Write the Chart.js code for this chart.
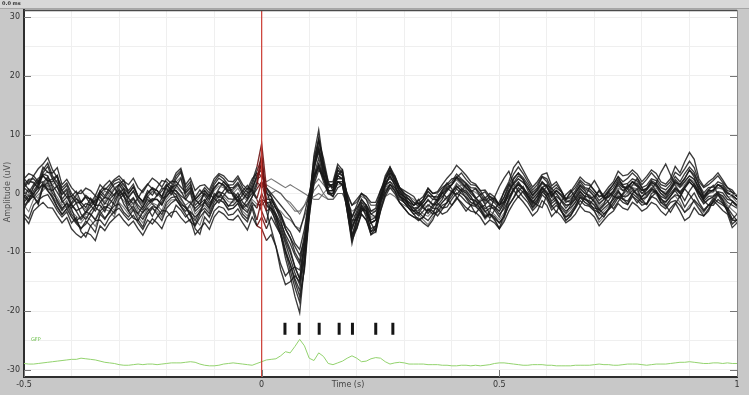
<!DOCTYPE html>
<html><head><meta charset="utf-8">
<script src="https://cdn.jsdelivr.net/npm/chart.js@4.4.1/dist/chart.umd.min.js"></script>
<style>html,body{margin:0;padding:0;background:#c8c8c8;overflow:hidden}canvas{display:block}</style>
</head><body>
<canvas id="c" width="749" height="395" style="width:749px;height:395px"></canvas>
<script>
// time axis (s)
const times = [-0.5,-0.49,-0.48,-0.47,-0.46,-0.45,-0.44,-0.43,-0.42,-0.41,-0.4,-0.39,-0.38,-0.37,-0.36,-0.35,-0.34,-0.33,-0.32,-0.31,
  -0.3,-0.29,-0.28,-0.27,-0.26,-0.25,-0.24,-0.23,-0.22,-0.21,-0.2,-0.19,-0.18,-0.17,-0.16,-0.15,-0.14,-0.13,-0.12,-0.11,
  -0.1,-0.09,-0.08,-0.07,-0.06,-0.05,-0.04,-0.03,-0.02,-0.01,
  0,0.01,0.02,0.03,0.04,0.05,0.06,0.07,0.08,0.09,0.1,0.11,0.12,0.13,0.14,0.15,0.16,0.17,0.18,0.19,0.2,0.21,0.22,0.23,0.24,0.25,0.26,0.27,0.28,0.29,0.3,0.31,0.32,
  0.33,0.34,0.35,0.36,0.37,0.38,0.39,0.4,0.41,0.42,0.43,0.44,0.45,0.46,0.47,0.48,0.49,0.5,0.51,0.52,0.53,0.54,0.55,0.56,0.57,0.58,0.59,
  0.6,0.61,0.62,0.63,0.64,0.65,0.66,0.67,0.68,0.69,0.7,0.71,0.72,0.73,0.74,0.75,0.76,0.77,0.78,0.79,0.8,0.81,0.82,0.83,0.84,0.85,0.86,0.87,0.88,0.89,
  0.9,0.91,0.92,0.93,0.94,0.95,0.96,0.97,0.98,0.99,1];

// channel amplitudes (uV), one value per time point
const ch01 = [-0.5,0.8,-0.2,1.5,3.3,3.0,1,-1.5,-2.8,-1.6,-2.6,-4.8,-5.9,-5.2,-3.8,-2.4,-3,-4.2,-3.3,-1.2,0.2,-1.8,-3,-4.2,-4.6,-3.1,-2.5,-3.9,-2.3,-0.8,-0.5,0.6,-0.2,-1.9,-2.3,-3.8,-5.3,-3.5,-1.3,-2.4,-1,0.3,-0.9,-2.2,-1.2,-0.5,-2.3,-1,0,1.8,
  7,-3,-2.5,-5,-7,-11,-14,-17.5,-20.3,-12,-2,6.5,10.8,5,1,1.5,4.5,3.5,-3,-8.5,-5,-2,-4,-7,-6,-1,2.5,4.5,2.5,0,-1.5,-2.5,-3.5,
  -4.5,-4.1,-2.6,-3,-3.8,-2.7,-1.5,0.3,1.2,0.5,-0.8,-2,-3.4,-2.3,-2.0,-3.5,-4.4,-5.9,-3.6,-1,0.5,1.8,0.9,-0.4,-1.3,-2,-2.4,-0.2,0.4,-1,-2.9,-4.6,-3.8,-2.2,-0.6,-1,-1.6,-2.8,-3.3,-4,-2.5,-0.5,0.6,-0.9,-1.8,0,0.8,-1,-1.9,-0.6,0.2,-1.5,-1.4,-0.4,0.5,-0.7,1.0,2.4,1.6,0.2,-1.2,-2,-1.6,-0.2,-1.1,-3.2,-4.6,-4.5];
const ch02 = [1,2.2,1.8,0.9,3.5,4.6,2.5,1.0,-0.2,0.6,-1.8,-0.9,-2,-3.3,-2.3,-1.2,-0.6,-1.8,-0.5,0.7,1.5,0.2,-0.7,0.4,-1.2,-2.4,-0.5,-1.4,-0.3,0.9,0.8,-0.2,1.2,2.6,-0.5,0.5,-2,-1.2,0,-1.1,0.8,1.9,1.3,0.1,0,-1.2,-0.2,0.9,0.6,-0.8,
  2,0.5,-2,-4,-7,-10,-13,-16,-18.5,-12.5,-3,5,9.5,5,1.5,1,4,3,-2,-7.5,-4.5,-2.5,-3,-6.5,-5.5,-1.5,2,4,2,0.5,-1,-2,-3,
  -2.4,-1.5,-0.4,-0.5,-1.3,0.2,1.1,1.5,2.8,2.3,1.6,0.5,-0.9,-0.2,0.3,-1,-1.6,-2.5,-1.4,0.3,1.8,3,2.4,1,-0.3,0.8,1.9,1.2,-0.3,0.5,-0.4,-1.5,-1.1,0,1.5,0.8,0.4,-0.5,-1.8,-1,-0.4,0.3,2.1,1.3,0.8,2,1.4,0.5,0.9,2.2,1.7,0.5,-0.1,1,2.4,1.5,2.6,4,3.2,1.5,-0.6,0.3,0.6,1.5,1.3,0.2,-0.4,-1];
const ch03 = [-2.5,-1.2,-0.5,-1.9,1.5,0.4,-0.5,-2.2,-3.5,-2.6,-4,-5.1,-6,-4.7,-5.5,-6.6,-3.5,-4.4,-3,-2.1,-1.8,-3.2,-4,-2.8,-4.5,-5.7,-3.5,-2.4,-3.5,-4.6,-2.5,-1.6,-1,-2.2,-3.5,-4.8,-5.5,-4.1,-3,-3.9,-2,-1.0,-1.5,-2.8,-2.5,-1.7,-3.5,-4.3,-2,-4.5,
  -1,-3,-6,-9,-13,-15.5,-15,-14,-15,-11,-4,2,5,3,0,-0.5,2,1.5,-3,-8,-6,-3.5,-4.5,-7,-6.5,-3,0,1.5,0.5,-1.5,-2.5,-3.5,-4,
  -4.6,-4,-2.7,-3.5,-3.1,-2,-1.6,-0.5,0.8,0,-0.6,-1.5,-1.9,-2.5,-3.9,-3.5,-4.2,-5,-4.0,-2,-0.7,1,0.2,-1,-2.4,-1.5,0.3,-0.5,-2.3,-1.5,-3.0,-4,-3.2,-2,-0.7,-1.5,-2.0,-2.5,-2.7,-3.5,-2.6,-1.5,-0.4,-1,-1.3,0,-0.7,-1.5,-1.8,0,0.4,-1.5,-2.1,-1,-0.2,-0.5,-2.3,-1,0.1,-1.5,-2.8,-2,-2.0,-1,-1.7,-3,-5.2,-4.5];
const ch04 = [1,0.2,1.5,2.6,3,2.1,2.5,3.1,0.5,-0.6,-0.5,0.4,-1.5,-2.4,-0.8,-1.6,0,0.9,0.5,-0.4,1.5,2.3,0,1.1,-0.5,-1.4,0,0.8,0.5,-0.5,1.2,2.1,2,1.1,0.2,1.0,-1,-1.9,0.5,-0.3,1,1.8,1.5,0.4,0.8,1.6,0,-0.9,1,2.8,
  5,-1.5,-1.5,-3.5,-6,-8.5,-11,-13.5,-15.5,-9.5,-1.5,5,8,4.5,1.5,1,3.5,3,-1.5,-6,-3.5,-1.5,-2.5,-5,-4.5,-0.5,2.5,3.5,2,0.5,-0.5,-1.5,-2.5,
  -2.3,-1.5,-0.2,-1,-1.1,0,0.6,1.5,2.6,1.8,0.9,0.3,0.8,-0.5,-1.9,-1,-0.8,-2,-1.4,0.5,1.6,2.5,1.9,1,-0.4,0.5,2.0,1.2,-0.6,0.5,-0.2,-1.2,-1.5,0.2,1.3,0.5,-0.9,-0.5,0.4,-0.8,-0.6,0.5,1.8,1,1.1,2,1.7,0.6,0.7,1.8,1.5,0.5,-0.2,0.8,2.1,1.2,2.0,3,2.4,1,-0.5,0.6,0.4,1.5,1.0,0,-0.3,-1];
const ch05 = [-3.5,-4.3,-2,-1.1,-0.5,-0.2,-1.5,-2.9,-4,-3.1,-5,-4.1,-6.5,-7.4,-5.5,-4.6,-4.5,-5.5,-4,-3.0,-2.5,-3.6,-4.5,-3.7,-5,-6.1,-4.5,-5.2,-4,-2.9,-3,-4.0,-2,-2.8,-4,-3.2,-6,-6.9,-4,-5.0,-3,-2.2,-2.5,-3.7,-3.5,-2.6,-4,-4.8,-2.5,-5.5,
  -4,-6,-4,-5.5,-7,-10,-12,-14.5,-16.5,-11,-3,4,7.5,3.5,0.5,0.5,3,2.5,-2.5,-7,-4.5,-2.5,-3.5,-6,-5.5,-1.5,1.5,3,1.5,-0.5,-1.5,-2.5,-3.5,
  -3.2,-4,-4.6,-3.5,-1.6,-2.5,-2.3,-1,0.1,-0.5,-1.4,-2,-2.2,-3,-4.1,-3.5,-3.9,-5,-3.8,-2,-0.8,0.5,-0.6,-1.5,-2.9,-2,-0.2,-1,-2.8,-2,-2.9,-4,-3.6,-2.5,-1.2,-2,-2.2,-3,-4.4,-3.5,-2.7,-2,-0.7,-1.5,-1.9,-0.5,-1.1,-2,-1.7,-0.5,-0.9,-2,-2.6,-1.5,-1.2,-2,-3.2,-2.5,-1.1,-2,-3.0,-2,-0.8,-1.5,-2.0,-2.5,-4.4,-3.5];
const ch06 = [2.5,1.6,3,4.2,5,6.1,4,2.7,1,1.8,0,-0.9,-1.5,-0.3,-1,-2.1,0.5,-0.4,1,2.1,2.5,1.4,0.5,1.6,-0.5,-1.3,0.5,-0.3,1,2.2,2,1.1,3,3.9,1,2.0,-1,-0.2,1,0.1,2,3.1,2.5,1.4,1.5,2.6,1,0.2,2,4.5,
  8.5,1,-0.5,-2.5,-4.5,-7.5,-9.5,-12.5,-14.5,-8.5,-1,6,9,5,2,2,5,4,-0.5,-5,-3,-1,-2,-4.5,-4,0,3,4.5,3,1,0,-1,-2,
  -1.2,-0.5,0.9,0,0.1,1,1.6,2.5,2.7,3.5,2.4,1.5,1.4,0.5,0.6,-0.5,-1.3,-2,-0.6,1.5,3.3,4.5,3.4,2,0.6,1.5,2.9,2.5,0.8,1.5,0.4,-1,0.1,1,2.3,1.5,1.4,0.5,-0.4,-0.5,0.6,1.5,2.9,2,2.6,3.5,2.7,1.5,2.4,3.5,2.6,1.5,1.2,2,3.6,3,4.2,5.5,4.4,2,1.0,1.5,2.2,3,1.9,1,0.2,-0.5];
const ch07 = [-0.5,-1.4,0,0.9,1.5,0.8,0.5,1.3,-1.5,-0.6,-2,-2.9,-2.5,-1.7,-2,-3.0,-1.5,-0.6,-1,-1.9,0,0.8,-1.5,-0.7,-2,-2.8,-1.5,-0.9,-1,-1.9,-0.5,0.4,0.5,-0.4,-1,-1.6,-2.5,-1.8,-1,-2.0,-0.5,0.3,0,-0.9,-1,0.1,-1.5,-2.3,-0.5,0.8,
  2,-1.5,-2.5,-4,-5.5,-8,-10,-12.5,-14.5,-9,-2,4.5,7,3.5,0.5,0.5,3,2.5,-2,-6,-4,-2,-3,-5,-4.5,-1,1.5,3,1.5,-0.5,-1,-2,-3,
  -2.9,-2,-1.2,-1.8,-2.0,-1,0.9,0.3,-0.2,0.8,0.4,-0.5,-2.1,-1.3,-0.9,-1.8,-2.2,-3,-1.6,-0.5,0.7,1.5,0.9,0,-1.4,-0.5,1.1,0.3,-1.3,-0.5,-1.2,-2,-1.8,-1,0.3,-0.5,-0.6,-1.3,-2.6,-1.8,0.2,-0.5,-0.8,0,1.5,0.8,-0.1,-0.5,0.1,0.8,0.4,-0.5,-0.9,0,1.0,0.3,1.2,2,1.1,0,-1.3,-0.5,-0.4,0.3,0.1,-1,-1.2,-2];
const ch08 = [-4,-5.1,-3,-2.2,-1.5,-2.4,-2.5,-3.8,-5,-4.1,-6,-6.9,-7.5,-6.6,-7,-8.0,-5.5,-6.3,-5,-4.2,-3.5,-4.6,-5.5,-4.7,-6,-7.1,-5.5,-4.3,-5,-6.0,-4,-3.2,-3,-4.1,-5,-4.4,-7,-6.0,-5,-6.1,-4,-3.0,-3.5,-4.4,-4.5,-3.7,-5,-6.2,-4,-5.5,
  -6,-8,-7,-9,-12,-14,-13,-12.5,-13,-9,-3,3,6,3,0,0,2,1.5,-3,-7.5,-5.5,-3.5,-4.5,-6.5,-6,-3,-0.5,1,0,-1.5,-2.5,-3.5,-4,
  -4.2,-5,-5.6,-4.5,-2.6,-3.5,-3.1,-2,-0.7,-1.5,-2.4,-3,-3.2,-4,-5.3,-4.5,-5.0,-6,-4.8,-3,-1.6,-0.5,-1.4,-2.5,-3.8,-3,-1.2,-2,-3.9,-3,-3.8,-5,-4.4,-3.5,-2.1,-3,-3.2,-4,-5.5,-4.5,-3.6,-3,-1.7,-2.5,-2.8,-1.5,-2.1,-3,-2.5,-1.5,-1.9,-3,-3.7,-2.5,-1.6,-3,-4.6,-4,-2.4,-3.5,-3.8,-3,-1.2,-2,-2.9,-3.5,-5.8,-5];
const ch09 = [1.5,2.4,2.5,1.6,4,5.2,3,1.8,0.5,1.4,-0.5,-1.6,-1.5,-0.6,-1,-2.2,0,-0.8,0.5,1.6,2,0.9,0,1.1,-0.5,-1.5,0,1.0,0.5,-0.6,1.5,0.6,2.5,3.6,0.5,1.5,-1,-0.1,0.5,-0.6,1.5,2.6,2,1.0,1,1.9,0.5,-0.4,1.5,3.8,
  6,0,-0.5,-2,-3.5,-6,-7.5,-10,-11.5,-7,-0.5,5,7.5,4,1.5,1.5,4,3.5,-0.5,-4,-2,0,-1,-3,-2.5,0.5,2.5,4,2.5,1,0,-0.5,-1.5,
  -2.2,-1,0.4,-0.5,-0.6,0.5,1.4,2,3.3,2.5,1.8,1,0.9,0,-1.3,-0.5,-0.9,-2,-0.7,1,2.6,3.5,2.7,1.5,0.2,1,2.8,2,0.2,1,0.3,-1,-0.5,0.5,2.0,1,0.8,0,-1.2,-0.5,0.2,1,2.4,1.5,1.7,2.5,2.1,1,1.4,2.5,2.2,1,0.6,1.5,2.9,2,3.4,4.5,3.6,1.5,0.1,1,1.1,2,1.6,0.5,0.2,-0.5];
const ch10 = [-1.5,-0.4,-0.5,-1.6,1,2.0,0,-1.1,-2.5,-1.7,-3.5,-4.6,-4,-3.1,-3.5,-4.5,-3,-2.2,-2.5,-3.4,-1,-0.1,-3,-2.1,-3.5,-4.4,-3,-2.2,-2.5,-3.6,-1.5,-0.7,-0.5,-1.5,-2.5,-3.1,-4,-3.2,-2.5,-3.4,-1.5,-0.4,-1,-2.1,-2,-1.1,-2.5,-3.2,-1.5,-2.5,
  0,-2,-2.5,-3.5,-5,-7,-8.5,-10.5,-12,-8,-2.5,2.5,4.5,2,0,0,2,1.5,-2.5,-5.5,-4,-2.5,-3,-5,-4.5,-1.5,0.5,1.5,0.5,-1,-1.5,-2.5,-3,
  -3.8,-3,-1.9,-2.5,-2.6,-1.5,-0.6,0,1.3,0.5,0.1,-1,-1.2,-2,-3.1,-2.5,-2.4,-3.5,-2.6,-1,0.8,1.5,0.7,-0.5,-1.8,-1,0.9,0,-1.7,-1,-2.1,-3,-2.4,-1.5,-0.2,-1,-1.3,-2,-3.3,-2.5,-1.8,-1,0.3,-0.5,-0.4,0.5,-0.2,-1,-0.6,0.5,0.2,-1,-1.4,-0.5,0.8,0,0.9,2,1.2,-0.5,-1.7,-1,-0.6,0,-0.4,-1.5,-2.0,-2.5];
const ch11 = [0,-1.1,1.2,2.1,3,2.2,2,3.0,-1,0.1,-2.5,-1.6,-3.5,-4.4,-3,-2.0,-2,-3.1,-1,-0.1,0.5,-0.6,-2,-0.9,-2.5,-3.3,-2,-1.1,-1,-2.0,0,0.9,1.5,0.4,-1,0.2,-3,-2.2,-1.5,-2.6,0,-0.7,0.5,1.4,-0.5,-1.4,-1,0.1,0.5,3.2,
  4,-1,-1,-2.5,-3.5,-5.5,-6.5,-8.5,-9.5,-6,-1,3,5,2.5,0.5,0.5,2,2,-1,-4,-2.5,-1,-2,-3.5,-3,-0.5,1.5,2,1,0,-0.5,-1,-2,
  -1.6,-2.5,-3.0,-2,-1.4,-0.5,0.4,1.5,2.8,2,1.1,0,-0.8,-1.5,-2.6,-2,-2.8,-4,-2.1,0,2.4,3.5,2.3,0.5,-0.9,0,1.0,1.5,0.8,0,-1.3,-2.5,-1.6,-0.5,0.9,0,-0.4,-1.5,-2.9,-2,-1.2,0,1.4,0.5,1.1,2,1.2,0,0.8,2,1.3,0,-0.7,0.5,1.9,1.5,2.5,4,2.8,0.5,-0.9,0,0.6,1.5,0.9,-0.5,-1.3,-2];
const ch12 = [2.5,3.4,3,2.0,4.5,3.6,3.5,4.4,1.5,2.4,1,0.1,0,0.9,0.5,-0.4,1.5,0.6,1.5,2.4,3,2.1,1.5,2.6,1,0.2,1.5,2.6,2,1.1,2.5,1.7,3.5,4.3,1.5,2.6,0.5,1.3,1.5,0.6,2.5,3.4,3,2.1,2,3.0,1.5,0.7,2.5,3.5,
  3,1,0,-1,-2,-3,-4,-5.5,-6.5,-3.5,0,3,4.5,2.5,1.5,1.5,2.5,2.5,0,-2,-1,0,-0.5,-1.5,-1.5,0.5,2,2.5,2,1,0.5,0,-0.5,
  -1.8,-1,0.9,0,0.3,1.5,2.6,3.5,4.8,4,3.1,2,1.6,0.5,-0.8,0,-0.6,-2,0.4,2,4.4,5.5,4.0,2.5,1.1,2,3.2,3.5,1.3,2,0.6,-1,0.3,1.5,2.8,2,1.6,0.5,-0.6,0,1.1,2,3.8,3,3.2,4,3.3,2,2.9,4,3.4,2,1.6,2.5,4.6,3.5,5.4,7,5.8,2.5,1.2,2,2.6,3.5,2.3,1,0.6,-0.5];
const ch13 = [-2,-3.1,-1,-0.2,0.5,1.5,-0.5,-1.6,-3,-2.1,-4,-4.9,-5,-3.9,-4.5,-5.6,-3.5,-2.7,-3,-4.0,-1.5,-2.4,-3.5,-2.4,-4,-5.0,-3.5,-2.6,-3,-4.1,-2,-1.1,-1,-2.1,-3,-2.2,-4.5,-5.4,-3,-4.1,-2,-1.2,-1.5,-2.6,-2.5,-1.6,-3,-3.8,-2,-2.0,
  -1,-1.5,-2,-2.5,-3,-4,-4.5,-5.5,-6,-4,-1.5,0.5,1.5,0,-1,-1,0,0,-1.5,-3,-2.5,-1.5,-2,-3,-3,-1.5,-0.5,0,-0.5,-1.5,-2,-2.5,-3,
  -3.6,-4.5,-5.3,-4,-3.2,-2.5,-1.4,0,1.8,1,-0.3,-1.5,-2.1,-3,-4.4,-3.5,-4.6,-6,-4.3,-1.5,0.6,2,0.8,-1,-2.6,-1.5,1.0,0,-0.6,-1.5,-2.8,-4.5,-3.9,-2.5,-0.4,-1.5,-2.2,-3,-4.9,-4,-2.8,-1.5,0.1,-1,-0.3,1,-0.4,-1.5,-0.6,1,-0.2,-1.5,-2.3,-1,-0.4,-1.5,-3.2,-2,-1.3,-2.5,-3.3,-2,-1.1,0,-1.3,-3,-4.3,-5];
const ch14 = [1,1.9,2,1.1,3,3.8,2.5,1.3,0,0.9,-1,-0.3,-2,-2.8,-1.5,-0.7,-0.5,-1.4,0,1.0,1.5,0.6,-0.5,0.4,-1,-1.9,-0.5,0.3,0,-0.9,1,0.1,2,2.8,0,1.1,-1.5,-0.6,0,-1.0,1,1.9,1.5,0.6,0.5,1.4,0,-0.8,1,2.4,
  3,2,2.5,2,1.5,1,1.5,1,0.5,0,-0.5,-1,-1,0,1,1.5,2,1.5,0,-2,-1.5,0,-0.5,-2,-2,-0.5,1,2,1.5,0.5,0,-0.5,-1,
  -1.9,-2,-2.3,-1,-0.1,-0.5,-1.2,0.5,0.9,1.5,0.6,-0.5,-1.7,-1,-0.6,-1.5,-2.4,-3,-1.8,0,1.2,2,0.9,0,-0.8,0,1.7,1,-0.6,0,-0.9,-2,-1.9,-1,0.7,0,-0.2,-1,-2.2,-1.5,-0.6,0,0.9,0.5,0.2,1,0.8,0,0.2,1,0.9,0,-0.4,0.5,1.6,1,1.6,2.5,2.0,0.5,-0.7,0,0.2,1,0.7,-0.5,-0.6,-1.5];
const ch15 = [-1,-0.1,0,-0.9,1.5,2.4,0.5,-0.6,-2,-1.2,-3,-3.9,-4.5,-3.5,-3.5,-4.4,-2.5,-1.6,-2,-2.9,-0.5,-1.2,-2.5,-1.5,-3,-4.0,-2.5,-1.6,-2,-2.9,-1,-0.1,0,-1.1,-2,-1.3,-3.5,-2.7,-2,-3.0,-1,-0.2,-0.5,-1.4,-1.5,-0.6,-2,-2.9,-1,-1.8,
  -2,-1,0,0.5,0,-1,-2,-3,-3,-2,-1,-0.5,0,-0.5,-1,-1,0,0,-2,-4,-3.5,-2,-2.5,-4,-4,-2,0,1,0.5,-0.5,-1.5,-2,-2.5,
  -2.6,-3.5,-3.9,-3,-2.3,-1.5,-0.7,0.5,1.6,1,0.1,-1,-1.1,-2,-3.7,-3,-3.6,-4.5,-3.3,-1,0.9,2,0.9,-0.5,-2.1,-1,0.8,0,-0.3,-1,-2.4,-3.5,-2.7,-1.5,0.2,-1,-1.2,-2,-3.8,-3,-2.1,-1,0.4,-0.5,0.1,1,0.4,-1,-0.3,1,0.3,-1,-1.6,-0.5,0.9,0,1.4,2.5,1.6,-0.5,-1.8,-1,-0.5,0,-0.6,-2,-2.8,-3.5];
const ch16 = [0.5,-0.4,1,1.9,2,1.2,1.5,2.3,0,0.8,-0.5,-1.4,-1.5,-0.6,-1,-1.9,-0.5,0.4,0,-0.8,1,1.8,-0.5,0.5,-1,-1.8,-0.5,0.4,0,-0.9,0.5,1.3,1,0.2,0,0.8,-1,-1.8,0,-0.6,0.5,1.3,1,0.2,0,0.9,-0.5,-1.3,0.5,2.0,
  1,1.5,1,0.5,0,-1,-1.5,-2.5,-3.5,-2,0,1.5,2.5,1.5,0.5,0.5,1.5,1.5,-0.5,-2,-1.5,-0.5,-1,-2,-2,-0.5,1,1.5,1,0,-0.5,-1,-1.5,
  -1.8,-1,0.3,-0.5,-0.8,0,0.9,1.5,2.3,1.5,1.2,0.5,0.2,-0.5,-1.6,-1,-1.1,-2,-1.2,0.5,1.7,2.5,1.8,1,-0.2,0.5,1.7,1,-0.3,0.5,-0.2,-1,-0.8,0,1.2,0.5,0.3,-0.5,-1.6,-1,-0.2,0.5,1.6,1,0.7,1.5,1.3,0.5,0.8,1.5,1.2,0.5,0.2,1,1.8,1,2.1,3,2.4,1,-0.2,0.5,0.5,1,0.8,0,-0.3,-1];
const ch17 = [-2.2,-1.0,0.4,1.6,2.0,0.6,-0.8,-2.4,-3.6,-2.6,-1.8,-3.0,-4.4,-3.2,-1.6,-0.4,-1.2,-2.6,-1.8,-0.6,0.8,-0.4,-1.6,-2.8,-3.4,-2.2,-1.0,-1.8,-2.6,-1.4,0.2,1.2,0.4,-0.8,-2.2,-3.6,-4.6,-3.0,-1.4,-0.2,-0.8,-1.6,-0.4,0.8,-0.2,-1.4,-2.6,-1.8,-0.6,1.4,
  5.5,-2,-3,-4.5,-6.5,-9.5,-12,-15,-17.5,-13,-4,4,9,6,2,0.5,3,4,-1,-7,-6,-3,-2.5,-5,-6.5,-2.5,1,3.5,3,1,-0.5,-2,-2.5,
  -3.4,-2.2,-1.0,-2.0,-0.8,0.6,1.8,0.8,-0.6,-1.8,-3.0,-2.0,-1.2,-2.6,-4.2,-3.0,-0.6,1.2,2.6,3.8,1.6,0.4,1.2,-0.4,-1.6,-0.4,0.8,-0.6,-2.0,-3.2,-1.4,-0.2,0.6,-0.8,-2.0,-0.6,1.0,2.2,0.8,-0.8,0.4,1.6,2.8,1.2,0.2,1.4,2.6,1.0,-0.4,0.6,1.8,3.6,5.0,3.2,1.4,0.2,-1.2,0.4,1.6,0.2,-1.0,0.6,1.4,-0.2,-1.6,-2.8,-1.4,-2.2];
const ch18 = [1.8,0.6,-0.6,0.4,1.8,2.8,1.4,0.2,-1.2,-2.4,-1.6,-0.2,0.6,-0.6,-1.8,-1.0,0.4,1.4,2.2,1.0,-0.4,0.2,-0.8,-1.8,-0.8,0.6,1.6,0.8,-0.4,0.4,1.6,0.4,-1.0,-2.2,-3.0,-1.8,-0.6,0.6,-0.4,-1.6,-0.6,0.8,2.0,1.2,0.2,-0.6,0.4,1.4,0.2,-1.0,
  -3,-5,-1,-2.5,-4,-6,-7.5,-9,-10.5,-8,-3,1.5,4,3,0.5,-0.5,1,1.5,-1.5,-4.5,-4.5,-3,-2,-3.5,-4,-2,0,1.5,1,-0.5,-1,-1.5,-2,
  -1.0,-2.2,-3.4,-2.4,-1.2,0.2,-0.8,-2.0,-1.0,0.4,1.6,0.6,-0.6,-1.8,-3.0,-4.2,-2.8,-1.4,0.2,1.6,0.6,-0.6,0.4,-0.8,-2.2,-1.2,0.2,1.2,0.0,-1.2,-2.4,-3.4,-2.0,-0.8,0.4,-0.6,-1.8,-0.8,0.6,-0.4,-1.6,-2.6,-1.4,-0.2,0.8,-0.4,-1.6,-0.6,0.6,1.6,0.4,-0.8,-2.0,-3.2,-1.8,-0.4,0.8,-0.2,-1.4,-2.6,-3.8,-2.6,-1.2,0.2,-1.0,-2.4,-3.6,-4.6];

// global field power trace (plotted in the uV frame near the bottom)
const gfp = [-28.9,-29.0,-29,-28.9,-28.8,-28.7,-28.6,-28.5,-28.4,-28.3,-28.2,-28.2,-28,-28.1,-28.2,-28.3,-28.5,-28.7,-28.8,-28.9,-29.1,-29.2,-29.2,-29.1,-29,-29.1,-29,-29.0,-29.1,-29.0,-28.9,-28.8,-28.8,-28.8,-28.7,-28.6,-28.7,-29.0,-29.2,-29.3,-29.3,-29.2,-29,-28.9,-28.8,-28.9,-29,-29.1,-29.2,-28.9,
  -28.6,-28.3,-28.2,-28.1,-27.6,-26.9,-27.1,-26,-24.8,-25.9,-28,-28.4,-27.1,-27.7,-28.9,-29.1,-28.8,-28.5,-28,-27.6,-28,-28.6,-28.5,-28.1,-27.9,-28,-28.6,-29,-28.8,-28.7,-28.8,-29,-29,
  -29.0,-29,-29.1,-29.1,-29.1,-29.2,-29.2,-29.3,-29.3,-29.2,-29.2,-29.3,-29.2,-29.3,-29.2,-29.1,-28.9,-28.8,-28.8,-28.9,-29.0,-29.1,-29.2,-29.2,-29.1,-29.1,-29.1,-29.2,-29.2,-29.3,-29.3,-29.3,-29.3,-29.2,-29.2,-29.2,-29.2,-29.1,-29.0,-29.1,-29.1,-29.2,-29.2,-29.1,-29.0,-29,-29.0,-29.1,-29.2,-29.1,-29.0,-29,-29.0,-28.9,-28.8,-28.7,-28.7,-28.6,-28.7,-28.8,-28.9,-28.9,-28.8,-28.8,-28.9,-28.8,-28.9,-28.9];

const markerTimes = [0.049,0.079,0.121,0.163,0.191,0.240,0.276];
const markerLevels = [-23,-23,-23,-23,-23,-23,-23];
const stimulusTime = [0];
const yLimits = [-31.2, 31.2];
const xLimits = [-0.5, 1];
const yTickLabels = [-30,-20,-10,0,10,20,30];
const xTickLabels = [-0.5,0,0.5,1];

const channels = [ch01,ch02,ch03,ch04,ch05,ch06,ch07,ch08,ch09,ch10,ch11,ch12,ch13,ch14,ch15,ch16,ch17,ch18];
const lightIdx = [12,13,14,15];

const toXY = arr => times.map((t,i) => ({x:t, y:arr[i]}));
const nearZero = ctx => (ctx.p0.parsed.x >= -0.0101 && ctx.p1.parsed.x <= 0.0101) ? 'rgba(110,20,20,0.9)' : undefined;

const datasets = [];
datasets.push({label:'stim', data: stimulusTime.flatMap(t => [{x:t,y:yLimits[0]},{x:t,y:yLimits[1]}]),
  borderColor:'#cc3b33', borderWidth:1.2, pointRadius:0, order:0});
datasets.push({label:'markers', data: markerTimes.map((t,i)=>({x:t,y:markerLevels[i]})), showLine:false,
  pointStyle:'line', pointRotation:90, pointRadius:6, pointBorderWidth:3, pointBorderColor:'#151515', order:1});
datasets.push({label:'GFP', data: toXY(gfp), borderColor:'#93d36e', borderWidth:1, pointRadius:0, order:2});
channels.forEach((ch,i) => {
  const light = lightIdx.includes(i);
  datasets.push({label:'ch'+(i+1), data: toXY(ch), borderColor: light ? 'rgba(85,85,85,0.8)' : 'rgba(25,25,25,0.85)',
    borderWidth: light ? 1.1 : 1.35, pointRadius:0, order:3, segment:{borderColor: nearZero}});
});

const frame = {
  id:'frame',
  beforeDraw(chart){
    const c = chart.ctx, a = chart.chartArea;
    c.save();
    c.fillStyle = '#c8c8c8'; c.fillRect(0,0,chart.width,chart.height);
    c.fillStyle = '#d8d8d8'; c.fillRect(0,0,chart.width,9);
    c.fillStyle = '#a6a6a6'; c.fillRect(0,8,chart.width,1);
    c.fillStyle = '#ffffff'; c.fillRect(a.left,a.top,a.right-a.left,a.bottom-a.top);
    c.restore();
  },
  afterDraw(chart){
    const c = chart.ctx, a = chart.chartArea, xs = chart.scales.x, ys = chart.scales.y;
    c.save();
    c.strokeStyle = '#4a4a4a'; c.lineWidth = 1.5;
    c.beginPath(); c.moveTo(a.left, a.top+0.5); c.lineTo(a.right, a.top+0.5); c.stroke();
    c.strokeStyle = '#8a8a8a'; c.lineWidth = 1;
    c.beginPath(); c.moveTo(a.right+0.5, a.top); c.lineTo(a.right+0.5, a.bottom); c.stroke();
    c.strokeStyle = '#777'; c.lineWidth = 1;
    yTickLabels.forEach(v => {
      const y = Math.round(ys.getPixelForValue(v)) + 0.5;
      c.beginPath(); c.moveTo(a.left, y); c.lineTo(a.left+7, y); c.stroke();
      c.beginPath(); c.moveTo(a.right-7, y); c.lineTo(a.right, y); c.stroke();
    });
    xTickLabels.forEach(v => {
      const x = Math.round(xs.getPixelForValue(v)) + 0.5;
      c.beginPath(); c.moveTo(x, a.bottom); c.lineTo(x, a.bottom-7); c.stroke();
    });
    c.fillStyle = '#444'; c.font = '8px "DejaVu Sans"';
    c.textAlign = 'center'; c.textBaseline = 'middle';
    c.fillText('Time (s)', 348, 385);
    c.save(); c.translate(8, 192); c.rotate(-Math.PI/2); c.fillStyle = '#555';
    c.fillText('Amplitude (uV)', 0, 0); c.restore();
    c.fillStyle = '#6cc04a'; c.font = '5px "DejaVu Sans"'; c.textAlign = 'left';
    c.fillText('GFP', a.left+7, 340);
    c.fillStyle = '#333'; c.font = 'bold 5px "DejaVu Sans"';
    c.fillText('0.0 ms', 2, 4);
    c.restore();
  }
};

new Chart(document.getElementById('c'), {
  type:'line',
  data:{datasets},
  options:{
    responsive:false, animation:false, events:[],
    layout:{padding:{left:0, top:10, right:12, bottom:0}},
    plugins:{legend:{display:false}, tooltip:{enabled:false}},
    elements:{line:{tension:0}},
    scales:{
      x:{type:'linear', min:xLimits[0], max:xLimits[1],
        afterFit: s => { s.height = 18; },
        border:{color:'#2e2e2e', width:2},
        grid:{color:'#efefef', drawTicks:false},
        ticks:{stepSize:0.1, includeBounds:false, autoSkip:false, maxRotation:0, padding:3,
          color:'#333', font:{family:'DejaVu Sans', size:8},
          callback: v => { const r = Math.round(v*100)/100; return xTickLabels.some(t => Math.abs(t-r) < 1e-6) ? String(r) : ''; }}
      },
      y:{type:'linear', min:yLimits[0], max:yLimits[1],
        afterFit: s => { s.width = 24; },
        border:{color:'#2e2e2e', width:2},
        grid:{color:'#efefef', drawTicks:false},
        ticks:{stepSize:5, includeBounds:false, padding:4, color:'#333', font:{family:'DejaVu Sans', size:8},
          callback: v => yTickLabels.includes(v) ? String(v) : ''}
      }
    }
  },
  plugins:[frame]
});
</script>
</body></html>
